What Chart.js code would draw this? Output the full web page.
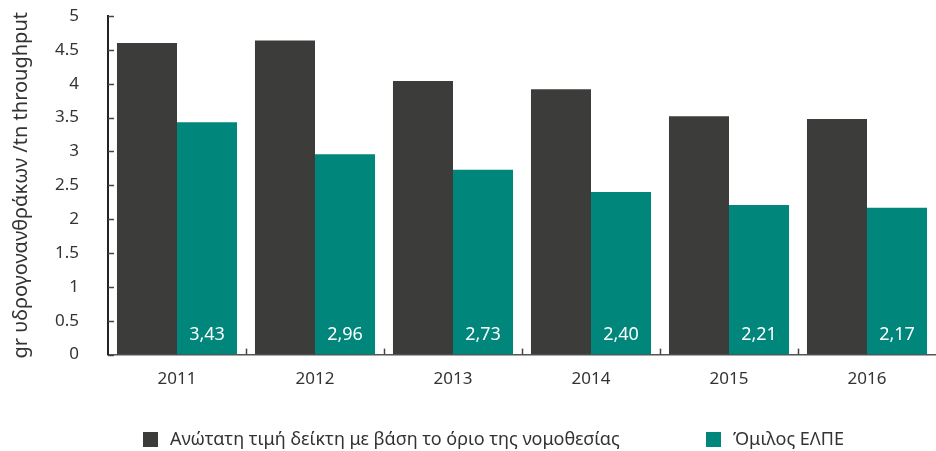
<!DOCTYPE html>
<html>
<head>
<meta charset="utf-8">
<script src="https://cdn.jsdelivr.net/npm/chart.js@4.4.1/dist/chart.umd.min.js"></script>
<style>
  html, body { margin: 0; padding: 0; background: #fff; }
  #wrap { width: 936px; height: 451px; position: relative; }
</style>
</head>
<body>
<div id="wrap"><canvas id="emissions"></canvas></div>
<script>
const years = ["2011", "2012", "2013", "2014", "2015", "2016"];
const legalLimit = [4.60, 4.64, 4.04, 3.92, 3.52, 3.48];
const elpeGroup = [3.43, 2.96, 2.73, 2.40, 2.21, 2.17];
const yTicks = [0, 0.5, 1, 1.5, 2, 2.5, 3, 3.5, 4, 4.5, 5];

const seriesNames = ["Ανώτατη τιμή δείκτη με βάση το όριο της νομοθεσίας", "Όμιλος ΕΛΠΕ"];
const darkColor = "#3c3c3b";
const tealColor = "#00867b";
const fontFamily = "'Noto Sans', sans-serif";
const textColor = "#333333";

// short inward tick marks on both axes
const axisTicks = {
  id: "axisTicks",
  afterDraw(chart) {
    const ctx = chart.ctx;
    const x = chart.scales.x, y = chart.scales.y;
    const area = chart.chartArea;
    ctx.save();
    ctx.strokeStyle = "#444";
    ctx.lineWidth = 1.5;
    yTicks.forEach((v) => {
      const py = Math.round(y.getPixelForValue(v)) + 0.5;
      ctx.beginPath();
      ctx.moveTo(area.left, py);
      ctx.lineTo(area.left + 6, py);
      ctx.stroke();
    });
    for (let i = 1; i < years.length; i++) {
      const px = Math.round((x.getPixelForValue(i - 1) + x.getPixelForValue(i)) / 2) + 0.5;
      ctx.beginPath();
      ctx.moveTo(px, area.bottom);
      ctx.lineTo(px, area.bottom - 6);
      ctx.stroke();
    }
    ctx.restore();
  },
};

// value labels at the foot of the teal bars
const barLabels = {
  id: "barLabels",
  afterDatasetsDraw(chart) {
    const ctx = chart.ctx;
    const meta = chart.getDatasetMeta(1);
    ctx.save();
    ctx.fillStyle = "#ffffff";
    ctx.font = "18px " + fontFamily;
    ctx.textAlign = "center";
    ctx.textBaseline = "middle";
    meta.data.forEach((bar, i) => {
      const label = elpeGroup[i].toFixed(2).replace(".", ",");
      ctx.fillText(label, bar.x, bar.base - 20);
    });
    ctx.restore();
  },
};

// legend row under the axis
const bottomLegend = {
  id: "bottomLegend",
  afterDraw(chart) {
    const ctx = chart.ctx;
    const items = [
      { x: 143, color: darkColor, text: seriesNames[0] },
      { x: 706, color: tealColor, text: seriesNames[1] },
    ];
    const cy = 440;
    ctx.save();
    ctx.font = "18px " + fontFamily;
    ctx.textBaseline = "middle";
    ctx.textAlign = "left";
    items.forEach((it) => {
      ctx.fillStyle = it.color;
      ctx.fillRect(it.x, cy - 8, 15, 15);
      ctx.fillStyle = textColor;
      ctx.fillText(it.text, it.x + 27, cy);
    });
    ctx.restore();
  },
};

new Chart(document.getElementById("emissions"), {
  type: "bar",
  data: {
    labels: years,
    datasets: [
      { label: seriesNames[0], data: legalLimit, backgroundColor: darkColor },
      { label: seriesNames[1], data: elpeGroup, backgroundColor: tealColor },
    ],
  },
  options: {
    responsive: true,
    maintainAspectRatio: false,
    animation: false,
    categoryPercentage: 0.87,
    barPercentage: 1.0,
    layout: { padding: { top: 16, right: 0, bottom: 48, left: 0 } },
    plugins: {
      legend: { display: false },
      tooltip: { enabled: false },
    },
    scales: {
      x: {
        grid: { display: false, drawTicks: false },
        border: { display: true, color: "#555", width: 1.5 },
        ticks: { color: textColor, font: { family: fontFamily, size: 17 }, padding: 14 },
      },
      y: {
        min: 0,
        max: 5,
        grid: { display: false, drawTicks: false },
        border: { display: true, color: "#222", width: 2 },
        afterFit: (scale) => {
          scale.width = 108;
          scale.paddingTop = 0;
          scale.paddingBottom = 0;
        },
        ticks: {
          stepSize: 0.5,
          color: textColor,
          padding: 29,
          font: { family: fontFamily, size: 17 },
          callback: (v) => String(v),
        },
        title: {
          display: true,
          text: "gr υδρογονανθράκων /tn throughput",
          color: textColor,
          font: { family: fontFamily, size: 20 },
          padding: { top: 9, bottom: 0 },
        },
      },
    },
  },
  plugins: [axisTicks, barLabels, bottomLegend],
});
</script>
</body>
</html>
